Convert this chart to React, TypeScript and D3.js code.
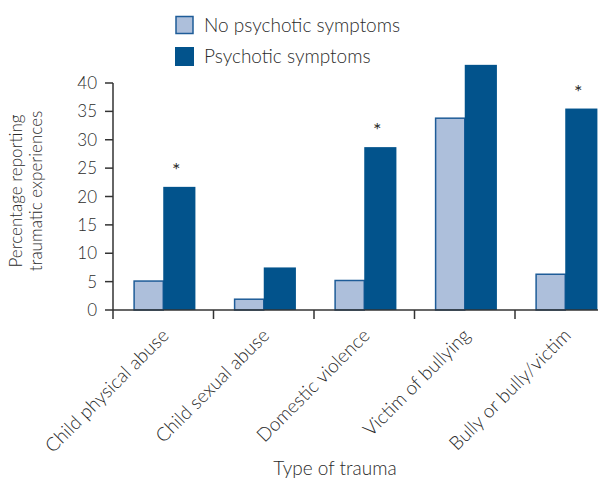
import React from "react";
import * as d3 from "d3";

const categories = [
  "Child physical abuse",
  "Child sexual abuse",
  "Domestic violence",
  "Victim of bullying",
  "Bully or bully/victim",
];
const noPsychotic = [5.1, 1.9, 5.2, 33.8, 6.3];
const psychotic = [21.7, 7.5, 28.7, 43.2, 35.5];
const significant = [true, false, true, false, true];
const yTicks = [0, 5, 10, 15, 20, 25, 30, 35, 40];
const seriesNames = ["No psychotic symptoms", "Psychotic symptoms"];

const W = 615;
const H = 480;
const FONT = "Lato, 'Open Sans', sans-serif";
const TEXT = "#2b2b2b";
const LIGHT = "#adbfdb";
const LIGHT_STROKE = "#1e5c98";
const DARK = "#02538c";

const App: React.FC = () => {
  const x = d3.scaleBand<string>().domain(categories).range([113, 615.5]).padding(0);
  const y = d3.scaleLinear().domain([0, 40]).range([310, 83]);
  const bw = x.bandwidth();
  const base = y(0);

  return (
    <svg
      width={W}
      height={H}
      style={{ position: "absolute", left: 0, top: 0, background: "#fff" }}
      fontFamily={FONT}
    >
      {/* legend */}
      <g>
        <rect x={176} y={16.5} width={17} height={17} fill={LIGHT} stroke={LIGHT_STROKE} strokeWidth={1.5} />
        <rect x={175} y={47} width={19} height={19} fill={DARK} />
        <text x={204} y={32} fontSize={19} fontWeight={300} fill={TEXT}>
          {seriesNames[0]}
        </text>
        <text x={204} y={63} fontSize={19} fontWeight={300} fill={TEXT}>
          {seriesNames[1]}
        </text>
      </g>

      {/* bars */}
      {categories.map((c, i) => {
        const b = x(c) as number;
        const lx = b + bw * 0.21;
        const lw = bw * 0.29;
        const dx = b + bw * 0.5;
        const dw = bw * 0.32;
        return (
          <g key={c}>
            <rect
              x={lx}
              y={y(noPsychotic[i])}
              width={lw}
              height={base - y(noPsychotic[i])}
              fill={LIGHT}
              stroke={LIGHT_STROKE}
              strokeWidth={1.5}
            />
            <rect
              x={dx}
              y={y(psychotic[i])}
              width={dw}
              height={base - y(psychotic[i])}
              fill={DARK}
            />
            {significant[i] && (
              <text
                x={dx + dw / 2 - 3}
                y={y(psychotic[i]) - 10}
                fontSize={20}
                textAnchor="middle"
                fill={TEXT}
              >
                *
              </text>
            )}
          </g>
        );
      })}

      {/* y axis */}
      <line x1={113} x2={113} y1={y(40)} y2={base + 9} stroke="#333" strokeWidth={1.5} />
      {yTicks.map((t) => (
        <g key={t}>
          <line x1={105} x2={113} y1={y(t)} y2={y(t)} stroke="#333" strokeWidth={1.5} />
          <text
            x={97}
            y={y(t)}
            dy="0.36em"
            fontSize={17}
            fontWeight={300}
            textAnchor="end"
            fill={TEXT}
          >
            {t}
          </text>
        </g>
      ))}

      {/* x axis */}
      <line x1={113} x2={598} y1={base} y2={base} stroke="#333" strokeWidth={1.5} />
      {categories.slice(1).map((c) => (
        <line
          key={c}
          x1={x(c) as number}
          x2={x(c) as number}
          y1={base}
          y2={base + 9}
          stroke="#333"
          strokeWidth={1.5}
        />
      ))}
      {categories.map((c) => {
        const cx = (x(c) as number) + bw / 2;
        return (
          <text
            key={c}
            transform={`translate(${cx + 2},${base + 22}) rotate(-45)`}
            fontSize={19}
            fontWeight={300}
            textAnchor="end"
            dy="0.35em"
            fill={TEXT}
          >
            {c}
          </text>
        );
      })}

      {/* axis titles */}
      <text x={335} y={475} fontSize={19} fontWeight={300} textAnchor="middle" fill={TEXT}>
        Type of trauma
      </text>
      <g transform="translate(0,191) rotate(-90)">
        <text x={0} y={22} fontSize={17} fontWeight={300} textAnchor="middle" fill={TEXT}>
          Percentage reporting
        </text>
        <text x={0} y={42} fontSize={17} fontWeight={300} textAnchor="middle" fill={TEXT}>
          traumatic experiences
        </text>
      </g>
    </svg>
  );
};

export default App;
